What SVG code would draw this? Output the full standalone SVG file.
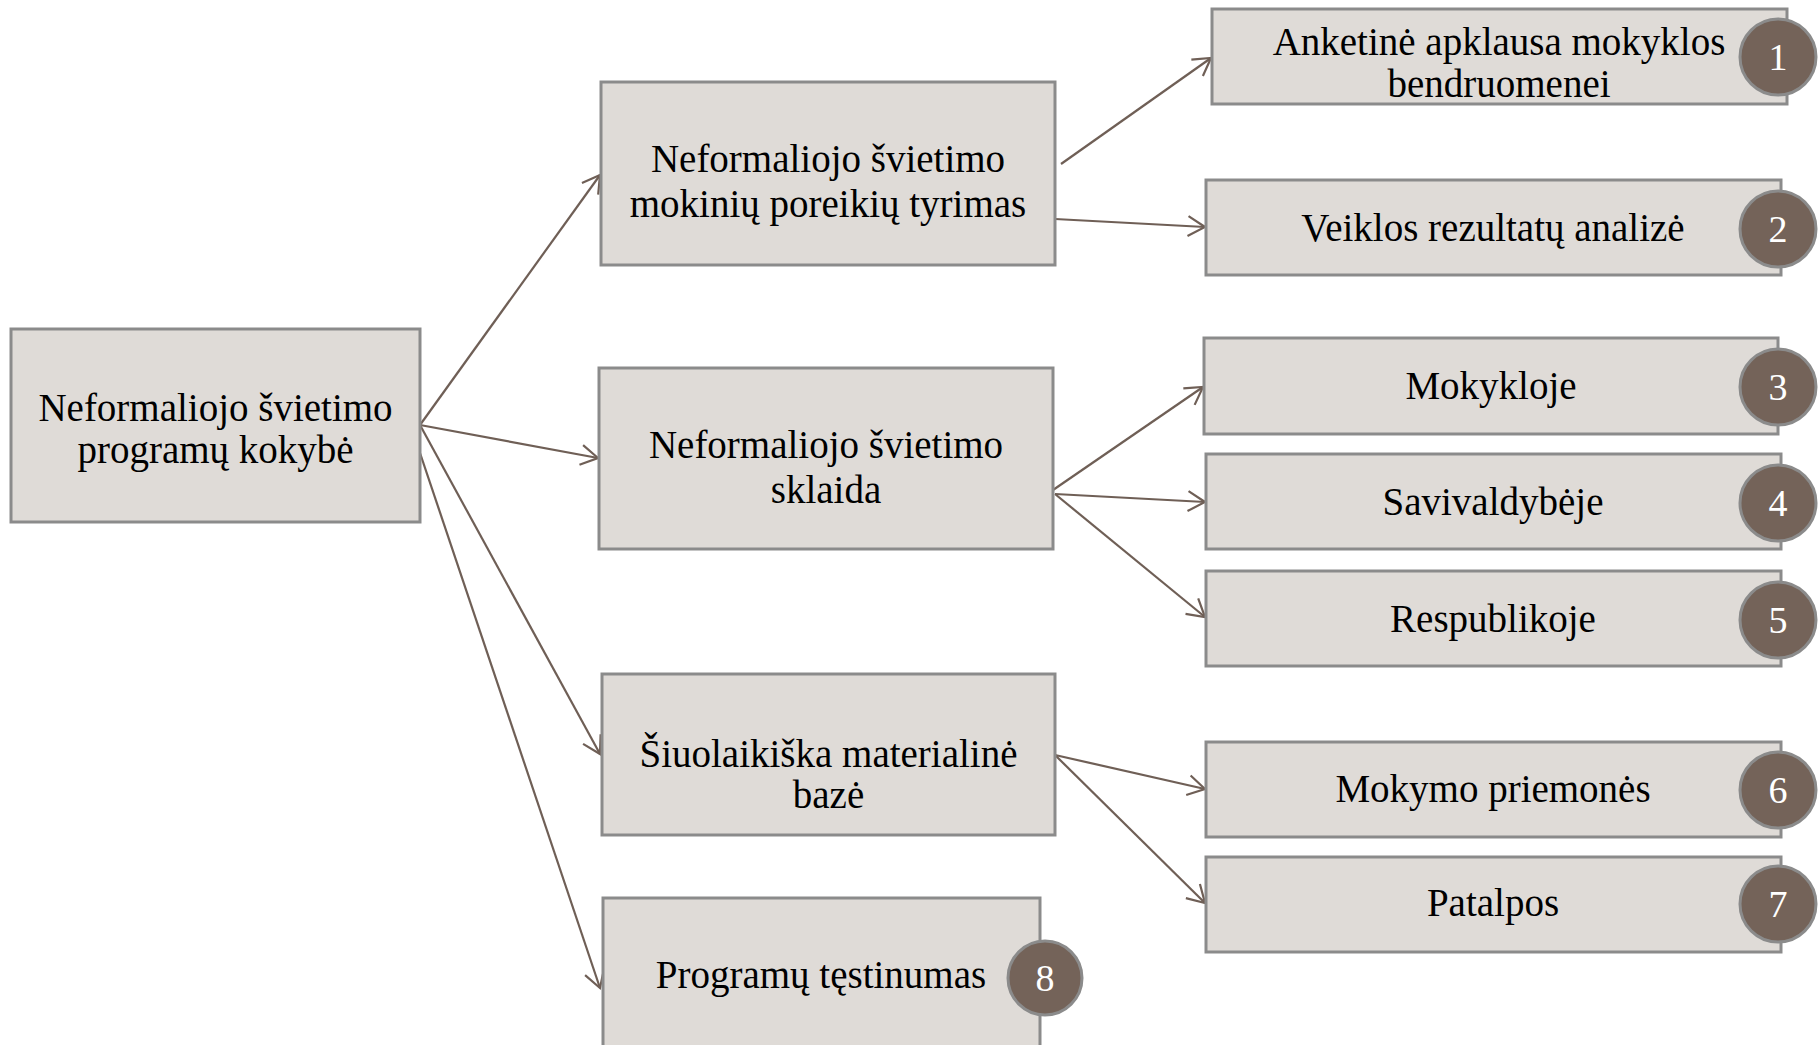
<svg xmlns="http://www.w3.org/2000/svg" width="1820" height="1045" viewBox="0 0 1820 1045">
<style>
.box{fill:#dfdbd7;stroke:#8b8b8b;stroke-width:3}
.lbl{font-family:"Liberation Serif","Times New Roman",serif;font-size:39px;fill:#000;text-anchor:middle}
.badge{fill:#746359;stroke:#8b8b8b;stroke-width:3}
.num{font-family:"Liberation Serif","Times New Roman",serif;font-size:38px;fill:#fff;text-anchor:middle}
.con{stroke:#6f5f56;stroke-width:2.2;fill:none;marker-end:url(#arr)}
</style>
<defs>
<marker id="arr" markerUnits="userSpaceOnUse" markerWidth="30" markerHeight="30" viewBox="-20 -15 24 30" refX="0" refY="0" orient="auto">
<path d="M-17,-10 L0,0 L-17,10" fill="none" stroke="#6f5f56" stroke-width="2.2"/>
</marker>
</defs>
<rect width="1820" height="1045" fill="#fff"/>
<g id="connectors">
<line class="con" x1="420" y1="425" x2="600" y2="175"/>
<line class="con" x1="420" y1="425" x2="598" y2="458"/>
<line class="con" x1="420" y1="425" x2="600" y2="754"/>
<line class="con" x1="420" y1="453" x2="600" y2="988"/>
<line class="con" x1="1061" y1="164" x2="1211" y2="58"/>
<line class="con" x1="1055" y1="219" x2="1205" y2="227"/>
<line class="con" x1="1053" y1="490" x2="1203" y2="387"/>
<line class="con" x1="1055" y1="494" x2="1205" y2="502"/>
<line class="con" x1="1055" y1="494" x2="1205" y2="617"/>
<line class="con" x1="1055" y1="755" x2="1205" y2="789"/>
<line class="con" x1="1055" y1="755" x2="1205" y2="903"/>
</g>
<g id="root">
<rect class="box" x="11" y="329" width="409" height="193"/>
<text class="lbl" x="215.5" y="421">Neformaliojo švietimo</text>
<text class="lbl" x="215.5" y="463">programų kokybė</text>
</g>
<g id="mid1">
<rect class="box" x="601" y="82" width="454" height="183"/>
<text class="lbl" x="828" y="172">Neformaliojo švietimo</text>
<text class="lbl" x="828" y="217">mokinių poreikių tyrimas</text>
</g>
<g id="mid2">
<rect class="box" x="599" y="368" width="454" height="181"/>
<text class="lbl" x="826" y="458">Neformaliojo švietimo</text>
<text class="lbl" x="826" y="503">sklaida</text>
</g>
<g id="mid3">
<rect class="box" x="602" y="674" width="453" height="161"/>
<text class="lbl" x="828.5" y="767">Šiuolaikiška materialinė</text>
<text class="lbl" x="828.5" y="808">bazė</text>
</g>
<g id="mid4">
<rect class="box" x="603" y="898" width="437" height="160"/>
<text class="lbl" x="821" y="988">Programų tęstinumas</text>
<circle class="badge" cx="1045" cy="978" r="37"/>
<text class="num" x="1045" y="991">8</text>
</g>
<g id="r1">
<rect class="box" x="1212" y="9" width="575" height="95"/>
<text class="lbl" x="1499" y="55">Anketinė apklausa mokyklos</text>
<text class="lbl" x="1499" y="97">bendruomenei</text>
<circle class="badge" cx="1778" cy="57" r="38"/>
<text class="num" x="1778" y="70">1</text>
</g>
<g id="r2">
<rect class="box" x="1206" y="180" width="575" height="95"/>
<text class="lbl" x="1493" y="241">Veiklos rezultatų analizė</text>
<circle class="badge" cx="1778" cy="229" r="38"/>
<text class="num" x="1778" y="242">2</text>
</g>
<g id="r3">
<rect class="box" x="1204" y="338" width="574" height="96"/>
<text class="lbl" x="1491" y="399">Mokykloje</text>
<circle class="badge" cx="1778" cy="387" r="38"/>
<text class="num" x="1778" y="400">3</text>
</g>
<g id="r4">
<rect class="box" x="1206" y="454" width="575" height="95"/>
<text class="lbl" x="1493" y="515">Savivaldybėje</text>
<circle class="badge" cx="1778" cy="503" r="38"/>
<text class="num" x="1778" y="516">4</text>
</g>
<g id="r5">
<rect class="box" x="1206" y="571" width="575" height="95"/>
<text class="lbl" x="1493" y="632">Respublikoje</text>
<circle class="badge" cx="1778" cy="620" r="38"/>
<text class="num" x="1778" y="633">5</text>
</g>
<g id="r6">
<rect class="box" x="1206" y="742" width="575" height="95"/>
<text class="lbl" x="1493" y="802">Mokymo priemonės</text>
<circle class="badge" cx="1778" cy="790" r="38"/>
<text class="num" x="1778" y="803">6</text>
</g>
<g id="r7">
<rect class="box" x="1206" y="857" width="575" height="95"/>
<text class="lbl" x="1493" y="916">Patalpos</text>
<circle class="badge" cx="1778" cy="904" r="38"/>
<text class="num" x="1778" y="917">7</text>
</g>
</svg>
